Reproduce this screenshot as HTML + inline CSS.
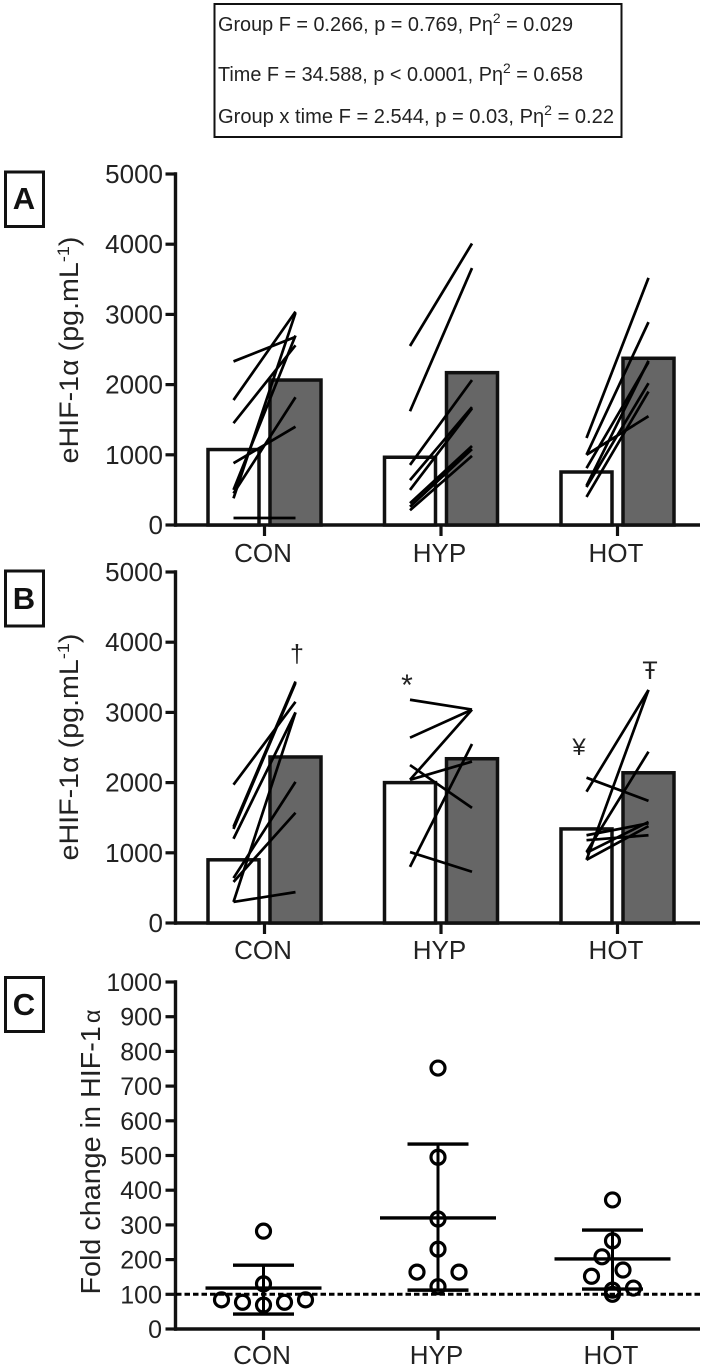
<!DOCTYPE html>
<html lang="en">
<head>
<meta charset="utf-8">
<title>HIF-1α panels</title>
<style>
html,body{margin:0;padding:0;background:#fff;}
svg{display:block;font-family:"Liberation Sans",sans-serif;}
</style>
</head>
<body>
<svg id="chart" width="709" height="1368" viewBox="0 0 709 1368" xmlns="http://www.w3.org/2000/svg">
  <g>
    <rect x="214.5" y="4" width="407" height="133" fill="#fff" stroke="#111" stroke-width="2"/>
    <text x="218" y="31" font-size="20" fill="#222" textLength="355" lengthAdjust="spacingAndGlyphs">Group F = 0.266, p = 0.769, Pη<tspan dy="-8" font-size="14">2</tspan><tspan dy="8"> = 0.029</tspan></text>
    <text x="218" y="81" font-size="20" fill="#222" textLength="365" lengthAdjust="spacingAndGlyphs">Time F = 34.588, p &lt; 0.0001, Pη<tspan dy="-8" font-size="14">2</tspan><tspan dy="8"> = 0.658</tspan></text>
    <text x="218" y="123" font-size="20" fill="#222" textLength="396" lengthAdjust="spacingAndGlyphs">Group x time  F = 2.544, p = 0.03, Pη<tspan dy="-8" font-size="14">2</tspan><tspan dy="8"> = 0.22</tspan></text>
  </g>

  <g>
    <rect x="5.5" y="172" width="38" height="54.5" fill="#fff" stroke="#111" stroke-width="3"/>
    <text x="24" y="209" font-size="31" font-weight="bold" text-anchor="middle" fill="#111">A</text>
  </g>
  <g>
    <rect x="5.5" y="571" width="38" height="55" fill="#fff" stroke="#111" stroke-width="3"/>
    <text x="24" y="609" font-size="31" font-weight="bold" text-anchor="middle" fill="#111">B</text>
  </g>
  <g>
    <rect x="5.5" y="977.5" width="38" height="54" fill="#fff" stroke="#111" stroke-width="3"/>
    <text x="24" y="1015" font-size="31" font-weight="bold" text-anchor="middle" fill="#111">C</text>
  </g>

  <text transform="translate(78 350) rotate(-90)" font-size="27" text-anchor="middle" fill="#222" textLength="227" lengthAdjust="spacingAndGlyphs">eHIF-1α (pg.mL<tspan dy="-9" font-size="17">-1</tspan><tspan dy="9">)</tspan></text>
  <text transform="translate(78 747) rotate(-90)" font-size="27" text-anchor="middle" fill="#222" textLength="227" lengthAdjust="spacingAndGlyphs">eHIF-1α (pg.mL<tspan dy="-9" font-size="17">-1</tspan><tspan dy="9">)</tspan></text>
  <text transform="translate(100 1152) rotate(-90)" font-size="28" text-anchor="middle" fill="#222" textLength="285" lengthAdjust="spacingAndGlyphs">Fold change in HIF-1<tspan font-size="23" dx="3">α</tspan></text>

  <text x="297" y="662" font-size="25" text-anchor="middle" fill="#222">†</text>
  <text x="407" y="695" font-size="30" text-anchor="middle" fill="#222">*</text>
  <text x="579" y="755" font-size="24" text-anchor="middle" fill="#222">¥</text>
  <text x="650" y="679" font-size="25" text-anchor="middle" fill="#222">Ŧ</text>
</svg>
<script>
const categories = ['CON', 'HYP', 'HOT'];
const concTicks = [0, 1000, 2000, 3000, 4000, 5000];
const foldTicks = [0, 100, 200, 300, 400, 500, 600, 700, 800, 900, 1000];

const panelAPreBars = [1075, 965, 755];
const panelAPostBars = [2065, 2170, 2375];
const panelBPreBars = [900, 2000, 1340];
const panelBPostBars = [2365, 2340, 2140];

const panelAConPre = [2330, 1780, 1450, 880, 380, 500, 450, 100];
const panelAConPost = [2680, 3040, 2560, 1400, 3020, 2700, 1820, 100];
const panelAHypPre = [2550, 1620, 855, 640, 500, 310, 210, 260];
const panelAHypPost = [4010, 3660, 2065, 1680, 1660, 1125, 985, 1080];
const panelAHotPre = [1240, 1000, 810, 540, 400, 1000, 560];
const panelAHotPost = [3520, 2890, 2320, 2020, 1900, 1550, 2340];

const panelBConPre = [1970, 1370, 1200, 585, 640, 300, 300, 1340];
const panelBConPost = [3150, 3440, 3000, 1570, 2010, 3000, 440, 3420];
const panelBHypPre = [3180, 2640, 2250, 2040, 2040, 800, 1010];
const panelBHypPost = [3040, 3040, 1640, 3040, 2300, 2550, 730];
const panelBHotPre = [2070, 1870, 900, 1010, 1180, 1250, 1000, 900];
const panelBHotPost = [1740, 3320, 3320, 2440, 1250, 1420, 1440, 1380];

const foldCon = [282, 130, 69, 84, 77, 77, 84];
const foldConSlots = [0, 0, 0, -2, -1, 1, 2];
const foldHyp = [752, 495, 317, 230, 164, 164, 122];
const foldHypSlots = [0, 0, 0, 0, -1, 1, 0];
const foldHot = [372, 254, 208, 152, 170, 112, 100, 118];
const foldHotSlots = [0, 0, -0.5, -1, 0.5, 0, 0, 1];

const foldMeans = [118, 320, 202];
const foldUpper = [184, 533, 285];
const foldLower = [43, 112, 115];
const referenceLevel = [100];

const svg = document.getElementById('chart');
const NS = 'http://www.w3.org/2000/svg';

function concY(base) {
  return function (v) { return base - v * 0.0702; };
}
const panelAY = concY(525);
const panelBY = concY(923);
function foldY(v) { return 1329 - v * 0.347; }
function barGroupX(i) { return 264.5 + 176.5 * i; }
function preX(i) { return barGroupX(i) - 31; }
function postX(i) { return barGroupX(i) + 31; }
function foldX(i) { return 263.5 + 174.5 * i; }

function make(tag, attrs, parent) {
  const el = document.createElementNS(NS, tag);
  Object.keys(attrs).forEach(function (k) { el.setAttribute(k, attrs[k]); });
  parent.appendChild(el);
  return el;
}

function drawAxes(prefix, yScale, ticks, baseY, tickLabelX, tickFont, xPositions, labelBaseline) {
  const g = make('g', {}, svg);
  
  
  const yAxis = make('line', { x1: 175.5, x2: 175.5, y1: yScale(ticks[ticks.length - 1]) - 1.7, y2: baseY + 1.7, stroke: '#111', 'stroke-width': 3.4 }, g);
  
  
  const xAxis = make('line', { x1: 174, x2: 700, y1: baseY, y2: baseY, stroke: '#111', 'stroke-width': 3.4 }, g);
  
  
  ticks.forEach(function (t) {
    const y = yScale(t);
    const tick = make('line', { x1: 165.5, x2: 176, y1: y, y2: y, stroke: '#111', 'stroke-width': 3.2 }, g);
    
    
    const label = make('text', { x: tickLabelX, y: y + 9, 'font-size': tickFont, 'text-anchor': 'end', fill: '#222' }, g);
    label.textContent = String(t);
    
    
  });
  categories.forEach(function (c, i) {
    const x = xPositions(i);
    const tick = make('line', { x1: x, x2: x, y1: baseY, y2: baseY + 11, stroke: '#111', 'stroke-width': 3.2 }, g);
    
    
    const label = make('text', { x: x - 1.5, y: labelBaseline, 'font-size': 26, 'text-anchor': 'middle', fill: '#222' }, g);
    label.textContent = c;
    
    
  });
}

function drawBars(prefix, yScale, baseY, pre, post) {
  categories.forEach(function (c, i) {
    const preBar = make('rect', { x: preX(i) - 25.5, y: yScale(pre[i]), width: 51, height: baseY - yScale(pre[i]), fill: '#fff', stroke: '#111', 'stroke-width': 3.5 }, svg);
    
    
    const postBar = make('rect', { x: postX(i) - 25.5, y: yScale(post[i]), width: 51, height: baseY - yScale(post[i]), fill: '#666', stroke: '#111', 'stroke-width': 3.5 }, svg);
    
    
  });
}

function drawPairs(prefix, yScale, index, pre, post) {
  pre.forEach(function (v, k) {
    const ln = make('line', { x1: preX(index), x2: postX(index), y1: yScale(v), y2: yScale(post[k]), stroke: '#000', 'stroke-width': 2.7 }, svg);
    
    
  });
}

drawAxes('panel-a', panelAY, concTicks, 525, 163, 26, barGroupX, 562);
drawBars('panel-a', panelAY, 525, panelAPreBars, panelAPostBars);
drawPairs('panel-a', panelAY, 0, panelAConPre, panelAConPost);
drawPairs('panel-a', panelAY, 1, panelAHypPre, panelAHypPost);
drawPairs('panel-a', panelAY, 2, panelAHotPre, panelAHotPost);

drawAxes('panel-b', panelBY, concTicks, 923, 163, 26, barGroupX, 959);
drawBars('panel-b', panelBY, 923, panelBPreBars, panelBPostBars);
drawPairs('panel-b', panelBY, 0, panelBConPre, panelBConPost);
drawPairs('panel-b', panelBY, 1, panelBHypPre, panelBHypPost);
drawPairs('panel-b', panelBY, 2, panelBHotPre, panelBHotPost);

drawAxes('panel-c', foldY, foldTicks, 1329, 162, 25, foldX, 1364);

function drawErrorBars(i) {
  const x = foldX(i);
  const stem = make('line', { x1: x, x2: x, y1: foldY(foldUpper[i]), y2: foldY(foldLower[i]), stroke: '#000', 'stroke-width': 3 }, svg);
  
  
  const up = make('line', { x1: x - 30.5, x2: x + 30.5, y1: foldY(foldUpper[i]), y2: foldY(foldUpper[i]), stroke: '#000', 'stroke-width': 3.4 }, svg);
  
  
  const low = make('line', { x1: x - 30.5, x2: x + 30.5, y1: foldY(foldLower[i]), y2: foldY(foldLower[i]), stroke: '#000', 'stroke-width': 3.4 }, svg);
  
  
  const mean = make('line', { x1: x - 58, x2: x + 58, y1: foldY(foldMeans[i]), y2: foldY(foldMeans[i]), stroke: '#000', 'stroke-width': 3.4 }, svg);
  
  
}

function drawPoints(i, values, slots) {
  values.forEach(function (v, k) {
    const c = make('circle', { cx: foldX(i) + slots[k] * 21, cy: foldY(v), r: 7, fill: 'none', stroke: '#000', 'stroke-width': 3.2 }, svg);
    
    
  });
}

categories.forEach(function (c, i) { drawErrorBars(i); });
drawPoints(0, foldCon, foldConSlots);
drawPoints(1, foldHyp, foldHypSlots);
drawPoints(2, foldHot, foldHotSlots);

const refLine = make('line', { x1: 176, x2: 700, y1: foldY(referenceLevel[0]), y2: foldY(referenceLevel[0]), stroke: '#000', 'stroke-width': 3, 'stroke-dasharray': '5.5 3' }, svg);


</script>
</body>
</html>
